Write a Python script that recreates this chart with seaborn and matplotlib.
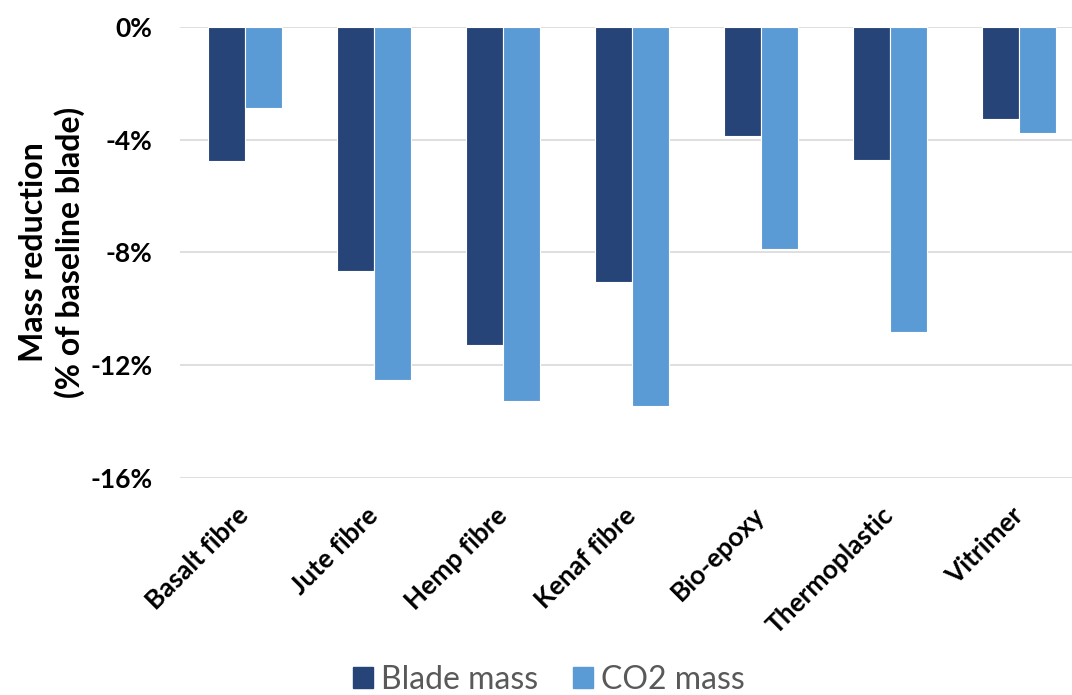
import matplotlib
matplotlib.use("Agg")
import matplotlib.pyplot as plt
import seaborn as sns
import pandas as pd
from matplotlib.ticker import FuncFormatter

materials = ["Basalt fibre", "Jute fibre", "Hemp fibre", "Kenaf fibre",
             "Bio-epoxy", "Thermoplastic", "Vitrimer"]
blade_mass = [-4.75, -8.65, -11.28, -9.05, -3.87, -4.72, -3.26]
co2_mass = [-2.88, -12.52, -13.27, -13.45, -7.88, -10.82, -3.76]
series = ["Blade mass", "CO2 mass"]
y_ticks = [0, -4, -8, -12, -16]

df = pd.DataFrame({
    "Material": materials * 2,
    "Series": [series[0]] * len(materials) + [series[1]] * len(materials),
    "Value": blade_mass + co2_mass,
})

sns.set_theme(style="white")
plt.rcParams["font.family"] = ["Lato", "DejaVu Sans"]

fig = plt.figure(figsize=(10.72, 6.95), dpi=100)
ax = fig.add_axes([0.1683, 0.3122, 0.8424, 0.649])

sns.barplot(data=df, x="Material", y="Value", hue="Series",
            order=materials, hue_order=series,
            palette=["#264478", "#5B9BD5"], width=0.573,
            edgecolor="#ffffff", linewidth=0.8, saturation=1,
            errorbar=None, ax=ax, zorder=3)

ax.set_ylim(-16, 0)
ax.set_yticks(y_ticks)
ax.yaxis.set_major_formatter(FuncFormatter(lambda v, p: f"{v:.0f}%"))
ax.grid(axis="y", color="#D9D9D9", linewidth=1.2, zorder=0)
ax.set_axisbelow(True)
for s in ax.spines.values():
    s.set_visible(False)

ax.tick_params(axis="y", length=0, pad=20, labelsize=19, labelcolor="black")
ax.tick_params(axis="x", length=0, pad=24, labelsize=19, labelcolor="black")
for lbl in ax.get_yticklabels():
    lbl.set_fontweight("bold")
for lbl in ax.get_xticklabels():
    lbl.set_fontweight("bold")
    lbl.set_rotation(45)
    lbl.set_ha("right")
    lbl.set_va("center")
    lbl.set_rotation_mode("anchor")

ax.set_xlabel("")
ax.set_ylabel("Mass reduction\n(% of baseline blade)", fontsize=23,
              fontweight="bold", color="black", linespacing=1.25)
ax.yaxis.set_label_coords(-0.106, 0.5)

ax.legend_.remove()
handles = [plt.Rectangle((0, 0), 1, 1, color=c) for c in ["#264478", "#5B9BD5"]]
leg = fig.legend(handles, series, loc="center", bbox_to_anchor=(0.5117, 1 - 680 / 695),
                 ncol=2, frameon=False, fontsize=23, handlelength=0.62, handleheight=0.62,
                 handletextpad=0.25, columnspacing=1.1)
for t in leg.get_texts():
    t.set_color("#595959")

fig.savefig("out.png", dpi=100)
